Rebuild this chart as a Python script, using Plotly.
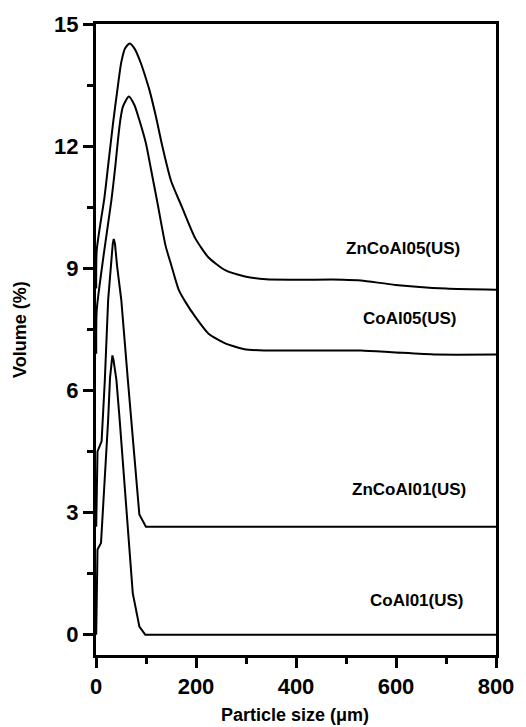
import plotly.graph_objects as go

# Particle size distributions (stacked with vertical offsets), volume %
coal01_x = [0.4, 3, 10, 17.7, 24.3, 28, 31, 32.8, 35, 40.8, 47.3, 60, 73.5, 86.7, 98.5, 800]
coal01_y = [0.0, 2.09, 2.25, 3.8, 5.28, 6.3, 6.75, 6.86, 6.75, 6.26, 5.28, 3.22, 1.02, 0.2, 0.0, 0.0]

zncoal01_x = [0.4, 3, 11.2, 17.7, 24.3, 30, 33.5, 35.5, 38, 42, 50.6, 63.7, 70.1, 86.7, 99.8, 800]
zncoal01_y = [2.65, 4.5, 4.75, 6.26, 8.22, 9.2, 9.6, 9.72, 9.6, 9.07, 8.22, 6.26, 5.28, 2.95, 2.65, 2.65]

coal05_x = [0.4, 1.5, 15, 30.9, 38.6, 43.9, 48.6, 53.8, 65.6, 76.8, 86.7, 99.8, 109.7,
            122.7, 139.2, 150, 165.5, 180, 198.4, 224.6, 257.4, 296.8, 336, 450, 530,
            600, 680, 800]
coal05_y = [6.9, 7.98, 9.3, 10.68, 11.5, 12.15, 12.64, 12.97, 13.22, 13.01, 12.64, 12.07,
            11.45, 10.62, 9.55, 9.1, 8.47, 8.15, 7.81, 7.40, 7.16, 7.01, 6.98, 6.98, 6.98,
            6.93, 6.88, 6.88]

zncoal05_x = [0.4, 1.5, 17, 25, 34, 44, 50.4, 58, 67, 76.8, 90, 103, 106.4, 119.4, 132.6,
              150, 172, 198.4, 224.6, 257.4, 298, 340, 400, 494, 530, 599, 700, 800]
zncoal05_y = [8.5, 9.45, 10.75, 11.6, 12.55, 13.5, 14.05, 14.4, 14.52, 14.40, 14.03, 13.54,
              13.4, 12.75, 12.0, 11.15, 10.5, 9.74, 9.27, 8.96, 8.80, 8.73, 8.72, 8.72,
              8.70, 8.59, 8.5, 8.47]

series_names = ["CoAl01(US)", "ZnCoAl01(US)", "CoAl05(US)", "ZnCoAl05(US)"]
label_x = [642, 626, 628, 614]
label_y = [0.83, 3.56, 7.77, 9.48]

x_ticks = [0, 200, 400, 600, 800]
y_ticks = [0, 3, 6, 9, 12, 15]

FONT = "Liberation Sans, Arial, sans-serif"

fig = go.Figure()
traces = [(coal01_x, coal01_y, series_names[0], "linear"),
          (zncoal01_x, zncoal01_y, series_names[1], "linear"),
          (coal05_x, coal05_y, series_names[2], "spline"),
          (zncoal05_x, zncoal05_y, series_names[3], "spline")]
for xs, ys, name, shape in traces:
    line = dict(color="black", width=2, shape=shape)
    if shape == "spline":
        line["smoothing"] = 0.6
    fig.add_trace(go.Scatter(x=xs, y=ys, mode="lines", name=name,
                             line=line, showlegend=False))

for name, lx, ly in zip(series_names, label_x, label_y):
    fig.add_annotation(x=lx, y=ly, text=f"<b>{name}</b>", showarrow=False,
                       font=dict(family=FONT, size=17, color="black"),
                       xanchor="center", yanchor="middle")

# axis titles placed as annotations in paper coordinates
fig.add_annotation(xref="paper", yref="paper", x=0.498, y=-0.095,
                   text="<b>Particle size (μm)</b>", showarrow=False,
                   font=dict(family=FONT, size=18, color="black"),
                   xanchor="center", yanchor="middle")
fig.add_annotation(xref="paper", yref="paper", x=-0.19, y=0.515,
                   text="<b>Volume (%)</b>", showarrow=False, textangle=-90,
                   font=dict(family=FONT, size=18, color="black"),
                   xanchor="center", yanchor="middle")

axis_common = dict(
    showline=True, linecolor="black", linewidth=3, mirror=True,
    ticks="outside", ticklen=10, tickwidth=2.5, tickcolor="black",
    showgrid=False, zeroline=False,
    tickfont=dict(family=FONT, size=22, color="black", weight="bold"),
)

fig.update_xaxes(range=[0, 800], tickvals=x_ticks,
                 minor=dict(dtick=100, ticks="outside", ticklen=6, tickwidth=2.5,
                            tickcolor="black"),
                 **axis_common)
fig.update_yaxes(range=[-0.5, 15], tickvals=y_ticks,
                 minor=dict(dtick=1.5, ticks="outside", ticklen=6, tickwidth=2.5,
                            tickcolor="black"),
                 **axis_common)

fig.update_layout(width=526, height=727,
                  margin=dict(l=96, r=24, t=24, b=72),
                  plot_bgcolor="white", paper_bgcolor="white")

fig.write_html("out.html")
